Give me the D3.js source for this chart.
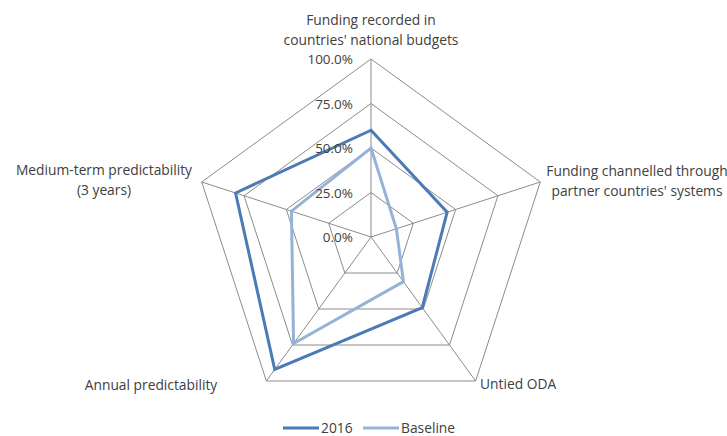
<!DOCTYPE html>
<html>
<head>
<meta charset="utf-8">
<script src="https://cdn.jsdelivr.net/npm/d3@7/dist/d3.min.js"></script>
<style>
  html, body { margin: 0; padding: 0; background: #fff; }
  svg { display: block; font-family: "Open Sans", "Lato", sans-serif; }
</style>
</head>
<body>
<svg id="chart" width="727" height="436"></svg>
<script>
// Indicators around the radar (clockwise from top)
const categories = [
  ["Funding recorded in", "countries' national budgets"],
  ["Funding channelled through", "partner countries' systems"],
  ["Untied ODA"],
  ["Annual predictability"],
  ["Medium-term predictability", "(3 years)"]
];
const series2016 = [0.60, 0.45, 0.49, 0.92, 0.80];
const seriesBaseline = [0.50, 0.15, 0.31, 0.74, 0.47];
const tickValues = [0, 0.25, 0.5, 0.75, 1.0];
const seriesNames = ["2016", "Baseline"];
const seriesColors = ["#4a7bb7", "#95b3d7"];

const svg = d3.select("#chart");
const cx = 371, cy = 237, R = 178;
const r = d3.scaleLinear().domain([0, 1]).range([0, R]);
const n = categories.length;
const angle = i => -Math.PI / 2 + i * 2 * Math.PI / n;
const pt = (i, v) => [cx + r(v) * Math.cos(angle(i)), cy + r(v) * Math.sin(angle(i))];

const gridColor = "#8c8c8c";
const textColor = "#404040";
const labelSize = 13.8;

// Pentagon grid rings
const ring = d3.line().curve(d3.curveLinearClosed);
svg.append("g").selectAll("path").data(tickValues.slice(1)).join("path")
  .attr("d", v => ring(d3.range(n).map(i => pt(i, v))))
  .attr("fill", "none").attr("stroke", gridColor).attr("stroke-width", 1);

// Spokes
svg.append("g").selectAll("line").data(d3.range(n)).join("line")
  .attr("x1", cx).attr("y1", cy)
  .attr("x2", i => pt(i, 1)[0]).attr("y2", i => pt(i, 1)[1])
  .attr("stroke", gridColor).attr("stroke-width", 1);

// Series polygons, baseline first so 2016 sits on top
const seriesGroup = svg.append("g");
[seriesBaseline, series2016].forEach((vals, idx) => {
  const k = idx === 0 ? 1 : 0;
  seriesGroup.append("path")
    .attr("d", ring(vals.map((v, i) => pt(i, v))))
    .attr("fill", "none")
    .attr("stroke", seriesColors[k])
    .attr("stroke-width", 3)
    .attr("stroke-linejoin", "miter");
});

// Tick labels along the top spoke
const fmt = d3.format(".1%");
svg.append("g").selectAll("text").data(tickValues).join("text")
  .attr("x", cx - 18)
  .attr("y", v => cy - r(v) + 5)
  .attr("text-anchor", "end")
  .attr("font-size", 13.5)
  .attr("fill", textColor)
  .text(v => fmt(v));

// Category labels
const labelPos = [
  { x: 371, y: 25, anchor: "middle" },
  { x: 637, y: 176, anchor: "middle" },
  { x: 480, y: 389, anchor: "start" },
  { x: 151, y: 390, anchor: "middle" },
  { x: 104, y: 175, anchor: "middle" }
];
categories.forEach((lines, i) => {
  const p = labelPos[i];
  const t = svg.append("text")
    .attr("x", p.x).attr("y", p.y)
    .attr("text-anchor", p.anchor)
    .attr("font-size", labelSize)
    .attr("fill", textColor);
  lines.forEach((s, j) => {
    t.append("tspan").attr("x", p.x).attr("dy", j === 0 ? 0 : 20).text(s);
  });
});

// Legend
const legendX = [283, 363];
seriesNames.forEach((name, k) => {
  const g = svg.append("g");
  g.append("line")
    .attr("x1", legendX[k]).attr("x2", legendX[k] + 36)
    .attr("y1", 428).attr("y2", 428)
    .attr("stroke", seriesColors[k]).attr("stroke-width", 3);
  g.append("text")
    .attr("x", legendX[k] + 38).attr("y", 433)
    .attr("font-size", labelSize)
    .attr("fill", textColor)
    .text(name);
});
</script>
</body>
</html>
